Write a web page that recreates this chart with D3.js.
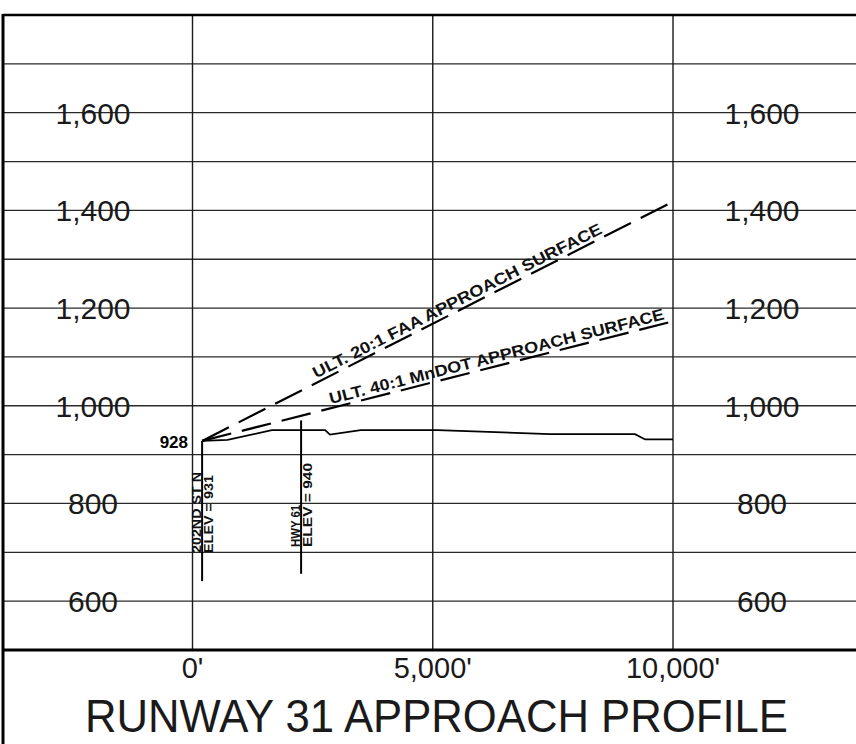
<!DOCTYPE html>
<html>
<head>
<meta charset="utf-8">
<script src="https://cdn.jsdelivr.net/npm/d3@7"></script>
<style>
  html, body { margin: 0; padding: 0; background: #fff; }
  svg { display: block; }
</style>
</head>
<body>
<script>
// elevation grid / labels
const gridElev = [600, 700, 800, 900, 1000, 1100, 1200, 1300, 1400, 1500, 1600, 1700]
const labelElev = [600, 800, 1000, 1200, 1400, 1600]
// distance ticks (ft)
const distTicks = [0, 5000, 10000]

// ground profile
const groundDist = [200, 730, 1650, 2760, 2860, 3500, 5100, 7440, 9210, 9420, 10000]
const groundElev = [928, 930, 950, 950, 941, 950, 950, 942, 942, 931, 931]

// approach surfaces (start at runway end + 200')
const surfaceNames = ['ULT. 20:1 FAA APPROACH SURFACE', 'ULT. 40:1 MnDOT APPROACH SURFACE']
const surfaceSlopes = [20, 40]
const surfaceStart = 200
const surfaceStartElev = 928
const surfaceEnd = 10000
const surfaceLabelAt = [2610, 2900]

// crossing features
const featureNames = ['202ND ST N', 'HWY 61']
const featureElevText = ['ELEV = 931', 'ELEV = 940']
const featureDist = [200, 2260]
const featureTop = [928, 970]
const featureBottom = [641, 656]

const width = 856
const height = 744

const x = d3.scaleLinear().domain([0, 10000]).range([192.5, 673])
const y = d3.scaleLinear().domain([500, 1800]).range([650, 15])

const svg = d3.select('body')
  .append('svg')
  .attr('width', width)
  .attr('height', height)
  .style('font-family', '"Liberation Sans", Arial, sans-serif')

// horizontal grid
svg.append('g')
  .selectAll('line')
  .data(gridElev)
  .join('line')
  .attr('x1', 3)
  .attr('x2', width)
  .attr('y1', d => y(d))
  .attr('y2', d => y(d))
  .attr('stroke', '#2a2a2a')
  .attr('stroke-width', 1.3)

// vertical grid at distance ticks
svg.append('g')
  .selectAll('line')
  .data(distTicks)
  .join('line')
  .attr('x1', d => x(d))
  .attr('x2', d => x(d))
  .attr('y1', y(1800))
  .attr('y2', y(500))
  .attr('stroke', '#1a1a1a')
  .attr('stroke-width', 1.4)

// frame
svg.append('line')
  .attr('x1', 3).attr('x2', width)
  .attr('y1', y(1800)).attr('y2', y(1800))
  .attr('stroke', '#000').attr('stroke-width', 2.5)
svg.append('line')
  .attr('x1', 3).attr('x2', 3)
  .attr('y1', y(1800) - 1).attr('y2', height)
  .attr('stroke', '#000').attr('stroke-width', 3)
svg.append('line')
  .attr('x1', 3).attr('x2', width)
  .attr('y1', y(500)).attr('y2', y(500))
  .attr('stroke', '#000').attr('stroke-width', 3)

// elevation labels, both sides
const fmt = d3.format(',')
;[93, 762].forEach(cx => {
  svg.append('g')
    .selectAll('text')
    .data(labelElev)
    .join('text')
    .attr('x', cx)
    .attr('y', d => y(d) + 11)
    .attr('text-anchor', 'middle')
    .style('font-size', '30px')
    .attr('fill', '#1a1a1a')
    .text(d => fmt(d))
})

// distance labels
svg.append('g')
  .selectAll('text')
  .data(distTicks)
  .join('text')
  .attr('x', d => x(d))
  .attr('y', 678)
  .attr('text-anchor', 'middle')
  .style('font-size', '29px')
  .attr('fill', '#1a1a1a')
  .text(d => fmt(d) + "'")

// title
svg.append('text')
  .attr('x', 85)
  .attr('y', 732)
  .attr('textLength', 703)
  .attr('lengthAdjust', 'spacingAndGlyphs')
  .style('font-size', '46px')
  .attr('fill', '#1a1a1a')
  .text('RUNWAY 31 APPROACH PROFILE')

// ground line
const line = d3.line().x(d => x(d[0])).y(d => y(d[1]))
svg.append('path')
  .datum(d3.zip(groundDist, groundElev))
  .attr('d', line)
  .attr('fill', 'none')
  .attr('stroke', '#000')
  .attr('stroke-width', 1.8)

// approach surfaces
surfaceSlopes.forEach((s, i) => {
  const endElev = surfaceStartElev + (surfaceEnd - surfaceStart) / s
  const x0 = x(surfaceStart)
  const y0 = y(surfaceStartElev)
  const x1 = x(surfaceEnd)
  const y1 = y(endElev)
  svg.append('line')
    .attr('x1', x0).attr('y1', y0)
    .attr('x2', x1).attr('y2', y1)
    .attr('stroke', '#000')
    .attr('stroke-width', 2.2)
    .attr('stroke-dasharray', '30,11')

  const angle = Math.atan2(y1 - y0, x1 - x0) * 180 / Math.PI
  const ld = surfaceLabelAt[i]
  const lx = x(ld)
  const ly = y(surfaceStartElev + (ld - surfaceStart) / s)
  const len = i === 0 ? 322 : 345
  svg.append('text')
    .attr('transform', `translate(${lx},${ly}) rotate(${angle})`)
    .attr('x', 0)
    .attr('y', -4)
    .attr('textLength', len)
    .attr('lengthAdjust', 'spacingAndGlyphs')
    .style('font-size', '16px')
    .style('font-weight', 'bold')
    .attr('fill', '#111')
    .text(surfaceNames[i])
})

// 928 label
svg.append('text')
  .attr('x', 188)
  .attr('y', y(surfaceStartElev) + 7)
  .attr('text-anchor', 'end')
  .style('font-size', '17px')
  .style('font-weight', 'bold')
  .text(surfaceStartElev)

// crossing features
const textLens = [[81, 78], [42, 84]]
const textBottom = [553, 547]
featureNames.forEach((name, i) => {
  const fx = x(featureDist[i])
  svg.append('line')
    .attr('x1', fx).attr('x2', fx)
    .attr('y1', y(featureTop[i]))
    .attr('y2', y(featureBottom[i]))
    .attr('stroke', '#000')
    .attr('stroke-width', 2)

  svg.append('text')
    .attr('transform', `translate(${fx - 1},${textBottom[i]}) rotate(-90)`)
    .attr('textLength', textLens[i][0])
    .attr('lengthAdjust', 'spacingAndGlyphs')
    .style('font-size', '12.5px')
    .style('font-weight', 'bold')
    .attr('fill', '#111')
    .text(name)

  svg.append('text')
    .attr('transform', `translate(${fx + 11},${textBottom[i]}) rotate(-90)`)
    .attr('textLength', textLens[i][1])
    .attr('lengthAdjust', 'spacingAndGlyphs')
    .style('font-size', '12.5px')
    .style('font-weight', 'bold')
    .attr('fill', '#111')
    .text(featureElevText[i])
})
</script>
</body>
</html>
